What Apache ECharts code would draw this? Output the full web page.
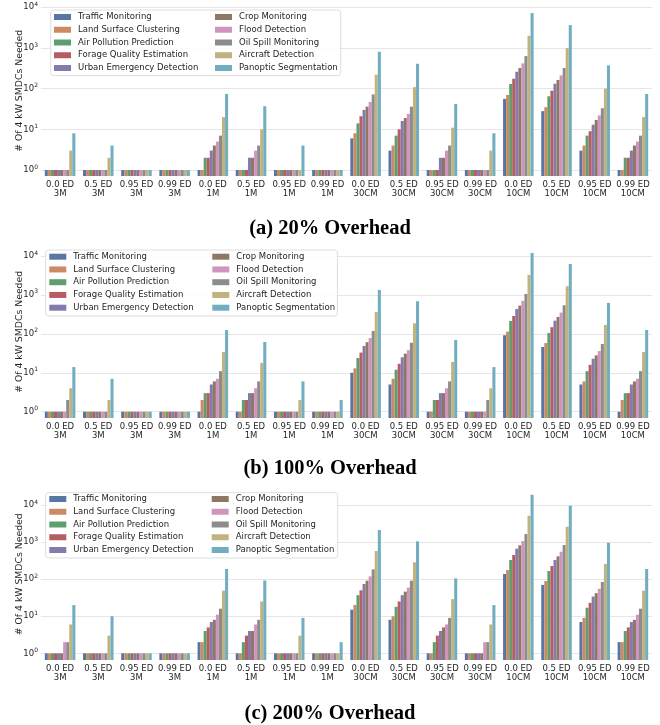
<!DOCTYPE html>
<html>
<head>
<meta charset="utf-8">
<script src="https://cdn.jsdelivr.net/npm/echarts@6/dist/echarts.min.js"></script>
<style>
html,body{margin:0;padding:0;background:#fff;}
#chart{width:660px;height:725px;}
</style>
</head>
<body>
<div id="chart"></div>
<script>
// ---- categories & labels ----
const categories = ['0.0 ED\n3M','0.5 ED\n3M','0.95 ED\n3M','0.99 ED\n3M','0.0 ED\n1M','0.5 ED\n1M','0.95 ED\n1M','0.99 ED\n1M',
  '0.0 ED\n30CM','0.5 ED\n30CM','0.95 ED\n30CM','0.99 ED\n30CM','0.0 ED\n10CM','0.5 ED\n10CM','0.95 ED\n10CM','0.99 ED\n10CM'];
const seriesNames = ['Traffic Monitoring','Land Surface Clustering','Air Pollution Prediction','Forage Quality Estimation',
  'Urban Emergency Detection','Crop Monitoring','Flood Detection','Oil Spill Monitoring','Aircraft Detection','Panoptic Segmentation'];
const captions = ['(a) 20% Overhead','(b) 100% Overhead','(c) 200% Overhead'];
const yAxisTitle = '# Of 4 kW SMDCs Needed';

// ---- (a) 20% overhead ----
const a_traffic  = [1,1,1,1,1,1,1,1,6,3,1,1,56,28,3,1];
const a_land     = [1,1,1,1,1,1,1,1,8,4,1,1,70,35,4,1];
const a_air      = [1,1,1,1,2,1,1,1,14,7,1,1,130,65,7,2];
const a_forage   = [1,1,1,1,2,1,1,1,21,10,1,1,175,89,9,2];
const a_urban    = [1,1,1,1,3,2,1,1,30,16,2,1,260,132,13,3];
const a_crop     = [1,1,1,1,4,2,1,1,36,19,2,1,321,163,17,4];
const a_flood    = [1,1,1,1,5,3,1,1,47,24,3,1,419,212,22,5];
const a_oil      = [1,1,1,1,7,4,1,1,72,36,4,1,632,321,33,7];
const a_aircraft = [3,2,1,1,20,10,1,1,220,109,11,3,1995,995,100,20];
const a_panoptic = [8,4,1,1,74,37,4,1,807,409,42,8,7200,3650,373,74];

// ---- (b) 100% overhead ----
const b_traffic  = [1,1,1,1,1,1,1,1,10,5,1,1,92,46,5,1];
const b_land     = [1,1,1,1,2,1,1,1,13,7,1,1,114,58,6,2];
const b_air      = [1,1,1,1,3,2,1,1,24,12,2,1,215,105,11,3];
const b_forage   = [1,1,1,1,3,2,1,1,33,17,2,1,288,148,16,3];
const b_urban    = [1,1,1,1,5,3,1,1,49,25,3,1,436,218,23,5];
const b_crop     = [1,1,1,1,6,3,1,1,61,31,3,1,531,272,28,6];
const b_flood    = [1,1,1,1,7,4,1,1,78,38,4,1,701,351,36,7];
const b_oil      = [2,1,1,1,11,6,1,1,119,59,6,2,1061,543,55,11];
const b_aircraft = [4,2,1,1,34,18,2,1,366,187,19,4,3268,1675,169,34];
const b_panoptic = [14,7,1,1,126,62,6,2,1345,689,70,14,12000,6270,623,126];

// ---- (c) 200% overhead ----
const c_traffic  = [1,1,1,1,2,1,1,1,15,8,1,1,138,70,7,2];
const c_land     = [1,1,1,1,2,1,1,1,20,10,1,1,176,89,9,2];
const c_air      = [1,1,1,1,4,2,1,1,37,18,2,1,328,166,17,4];
const c_forage   = [1,1,1,1,5,3,1,1,50,25,3,1,448,226,23,5];
const c_urban    = [1,1,1,1,7,4,1,1,74,37,4,1,662,328,34,7];
const c_crop     = [1,1,1,1,8,4,1,1,91,46,5,1,818,413,42,8];
const c_flood    = [2,1,1,1,11,6,1,1,119,59,6,2,1068,550,55,11];
const c_oil      = [2,1,1,1,16,8,1,1,184,91,9,2,1649,833,84,16];
const c_aircraft = [6,3,1,1,49,25,3,1,574,285,29,6,5140,2595,256,49];
const c_panoptic = [20,10,1,1,188,92,9,2,2115,1048,105,20,18900,9550,961,188];

const panels = [
  [a_traffic,a_land,a_air,a_forage,a_urban,a_crop,a_flood,a_oil,a_aircraft,a_panoptic],
  [b_traffic,b_land,b_air,b_forage,b_urban,b_crop,b_flood,b_oil,b_aircraft,b_panoptic],
  [c_traffic,c_land,c_air,c_forage,c_urban,c_crop,c_flood,c_oil,c_aircraft,c_panoptic]
];
const yMin = [0.713, 0.689, 0.66];
const yMax = [10940, 18400, 27900];

// ---- styling / layout ----
const colors = ['#5875A4','#CC8963','#5F9E6E','#B55D60','#857AAB','#8D7866','#D095BF','#8C8C8C','#C1B37F','#71AEC0'];
const FONT = 'DejaVu Sans';
const TXT = '#262626';
const gridTops = [5.7, 245.7, 488.5];
const gridHeights = [170.3, 172.3, 171.5];
const legendCol1 = [[54, 12], [49.3, 251.7], [49.3, 494]];
const legendCol2 = [[215, 12], [212.3, 251.7], [211.7, 494]];
const legendBoxes = [[50.7, 10, 290, 65.7], [45.7, 250, 291.7, 66], [45.7, 492.7, 292, 65.3]];
const captionTops = [218.5, 458.5, 703.5];

function makeRender(k) {
  return function (params, api) {
    const cat = api.value(0);
    const val = api.value(1);
    const pt = api.coord([cat, val]);
    const band = api.size([1, 0])[0];
    const bw = band * 0.8 / 10;
    const x = pt[0] - band * 0.4 + k * bw;
    const cs = params.coordSys;
    const bottom = cs.y + cs.height;
    return {
      type: 'rect',
      shape: { x: x, y: pt[1], width: bw, height: bottom - pt[1] },
      style: { fill: api.visual('color') }
    };
  };
}

const grids = [], xAxes = [], yAxes = [], series = [], legends = [], titles = [], graphics = [];
for (let p = 0; p < 3; p++) {
  grids.push({ left: 41, right: 8, top: gridTops[p], height: gridHeights[p] });
  xAxes.push({
    type: 'category', gridIndex: p, data: categories,
    axisLine: { show: false }, axisTick: { show: false },
    axisLabel: { interval: 0, fontFamily: FONT, fontSize: 8.5, lineHeight: 9, color: TXT, margin: 4 },
    splitLine: { show: false }
  });
  yAxes.push({
    type: 'log', logBase: 10, gridIndex: p, min: yMin[p], max: yMax[p],
    name: yAxisTitle, nameLocation: 'middle', nameGap: 17, nameMoveOverlap: false,
    nameTextStyle: { fontFamily: FONT, fontSize: 9.3, color: TXT },
    axisLine: { show: false }, axisTick: { show: false },
    axisLabel: {
      fontFamily: FONT, fontSize: 8.5, color: TXT, margin: 3,
      showMinLabel: false, showMaxLabel: false,
      formatter: function (v) {
        const e = Math.log10(v);
        if (Math.abs(e - Math.round(e)) > 1e-6) return '';
        return '10{s|' + Math.round(e) + '}';
      },
      rich: { s: { fontFamily: FONT, fontSize: 6, color: TXT, padding: [0, 0, 6, 0] } }
    },
    splitLine: { show: true, showMinLine: false, showMaxLine: false, lineStyle: { color: '#e6e6e6', width: 1 } }
  });
  for (let k = 0; k < 10; k++) {
    series.push({
      type: 'custom', name: seriesNames[k], xAxisIndex: p, yAxisIndex: p,
      itemStyle: { color: colors[k] },
      renderItem: makeRender(k),
      encode: { x: 0, y: 1 },
      data: panels[p][k].map((v, i) => [i, v])
    });
  }
  const lstyle = {
    orient: 'vertical', icon: 'rect', itemWidth: 17, itemHeight: 6, itemGap: 2.75,
    padding: 0, selectedMode: false,
    textStyle: { fontFamily: FONT, fontSize: 8.5, color: TXT, lineHeight: 10, padding: [0, 0, 0, 2] }
  };
  legends.push(Object.assign({}, lstyle, { left: legendCol1[p][0], top: legendCol1[p][1], data: seriesNames.slice(0, 5) }));
  legends.push(Object.assign({}, lstyle, { left: legendCol2[p][0], top: legendCol2[p][1], data: seriesNames.slice(5) }));
  titles.push({
    text: captions[p], left: 'center', top: captionTops[p], padding: 0,
    textStyle: { fontFamily: 'Liberation Serif', fontWeight: 'bold', fontSize: 20.5, color: '#000' }
  });
  const b = legendBoxes[p];
  graphics.push({
    type: 'rect', z: 3,
    shape: { x: b[0], y: b[1], width: b[2], height: b[3], r: 3 },
    style: { fill: 'rgba(255,255,255,0.85)', stroke: '#dedede', lineWidth: 1 }
  });
}

const chart = echarts.init(document.getElementById('chart'), null, { renderer: 'canvas' });
chart.setOption({
  animation: false,
  color: colors,
  title: titles,
  grid: grids,
  xAxis: xAxes,
  yAxis: yAxes,
  legend: legends,
  graphic: { elements: graphics },
  series: series
});
</script>
</body>
</html>
